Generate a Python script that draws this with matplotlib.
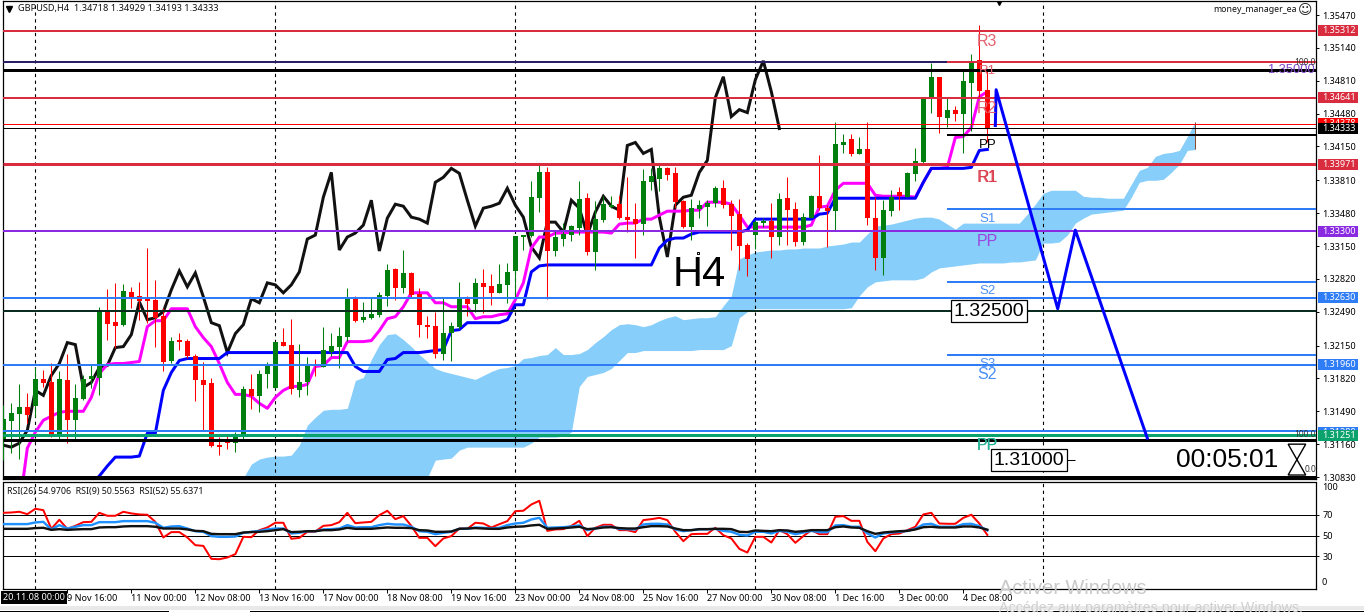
import numpy as np
import matplotlib
matplotlib.use("Agg")
import matplotlib.pyplot as plt
from matplotlib.patches import Rectangle, Polygon
from matplotlib import font_manager as fm
from matplotlib.ft2font import FT2Font

# ---------- data (prices in 1/10000 units) ----------
nan = float("nan")
opens = [13121,13139,13146,13153,13154,13181,13178,13126,13180,13140,
13161,13181,13182,13249,13239,13236,13269,13265,13262,13261,
13245,13200,13220,13220,13205,13180,13177,13115,13119,13117,
13125,13171,13164,13186,13172,13219,13216,13170,13178,13196,
13193,13209,13214,13224,13263,13241,13243,13246,13265,13292,
13273,13288,13267,13236,13235,13207,13228,13234,13264,13257,
13278,13275,13268,13276,13290,13324,13325,13363,13389,13310,
13322,13326,13333,13363,13309,13341,13354,13357,13344,13342,
13337,13379,13382,13393,13388,13360,13334,13352,13354,13358,
13373,13357,13347,13316,13326,13338,13340,13324,13363,13352,
13319,13343,13365,13353,13350,13416,13422,13407,13412,13343,
13303,13350,13369,13364,13387,13399,13463,13485,13444,13452,
13448,13479,13502,13471.8]
highs = [13155,13157,13176,13167,13193,13190,13198,13189,13207,13176,
13185,13197,13254,13272,13278,13277,13274,13279,13313,13281,
13253,13224,13228,13222,13207,13199,13182,13123,13126,13128,
13174,13186,13190,13199,13219,13233,13242,13217,13204,13202,
13234,13228,13234,13273,13265,13259,13263,13269,13297,13293,
13311,13289,13273,13245,13249,13264,13239,13279,13265,13283,
13292,13287,13297,13298,13325,13326,13380,13398,13394,13331,
13338,13336,13380,13368,13360,13365,13365,13365,13384,13358,
13392,13393,13398,13394,13394,13361,13362,13361,13361,13375,
13381,13361,13362,13318,13341,13343,13358,13368,13384,13359,
13348,13366,13406,13356,13440,13428,13428,13424,13440,13364,
13361,13371,13374,13389,13413,13465,13499,13485,13464,13456,
13493,13508,13537,13492.9]
lows = [13100,13107,13101,13137,13143,13173,13123,13120,13117,13119,
13160,13172,13165,13221,13213,13235,13253,13241,13238,13214,
13189,13198,13211,13203,13159,13130,13113,13105,13111,13108,
13120,13151,13148,13172,13172,13215,13166,13163,13165,13184,
13193,13205,13192,13220,13239,13239,13242,13244,13255,13261,
13268,13264,13224,13223,13203,13201,13200,13232,13245,13249,
13248,13256,13268,13258,13264,13311,13324,13349,13262,13305,
13315,13320,13326,13306,13291,13339,13353,13342,13329,13303,
13326,13371,13370,13381,13353,13333,13321,13343,13335,13354,
13353,13311,13291,13285,13312,13334,13303,13316,13316,13315,
13316,13343,13351,13314,13331,13408,13405,13407,13336,13291,
13286,13345,13351,13364,13380,13398,13449,13429,13435,13441,
13408,13431,13464,13419.3]
closes = [13141,13147,13153,13145,13181,13177,13126,13181,13140,13162,
13181,13184,13249,13237,13235,13270,13264,13260,13260,13243,
13199,13220,13219,13205,13180,13175,13114,13113,13117,13125,
13171,13164,13186,13197,13219,13215,13171,13178,13196,13194,
13211,13215,13225,13263,13240,13244,13247,13266,13291,13273,
13288,13266,13236,13234,13207,13228,13235,13262,13257,13278,
13274,13268,13277,13289,13325,13326,13364,13389,13310,13324,
13327,13335,13362,13309,13342,13357,13356,13343,13341,13337,
13380,13385,13393,13386,13359,13334,13353,13356,13358,13373,
13356,13345,13315,13302,13339,13340,13324,13362,13351,13319,
13344,13365,13353,13350,13417,13419,13407,13412,13343,13303,
13351,13364,13365,13388,13400,13465,13485,13445,13452,13448,
13481,13501,13471,13433.3]
chikou = [13115,13113,13117,13130,13170,13165,13185,13197,13218,13216,
13173,13178,13193,13195,13213,13214,13226,13259,13241,13243,
13249,13271,13290,13274,13288,13264,13238,13235,13208,13227,
13236,13262,13258,13278,13276,13268,13276,13289,13322,13326,
13364,13389,13311,13324,13328,13336,13361,13310,13343,13357,
13355,13344,13342,13338,13379,13384,13393,13388,13361,13335,
13353,13355,13358,13373,13356,13344,13314,13303,13339,13339,
13329,13361,13353,13326,13349,13365,13355,13351,13416,13419,
13408,13412,13344,13304,13356,13364,13366,13389,13401,13464,
13485,13445,13452,13449,13482,13501,13470,13433]
tenkan = [nan,nan,13052,13112,13128,13140,13144,13148,13149,13149,
13149,13163,13187,13196,13197,13197,13198,13199,13234,13240,
13240,13252,13252,13252,13234,13223,13214,13197,13178,13166,
13166,13164,13157,13152,13163,13170,13174,13174,13176,13194,
13195,13203,13203,13219,13219,13219,13220,13230,13242,13244,
13254,13268,13268,13268,13258,13258,13254,13254,13254,13242,
13244,13244,13246,13247,13261,13278,13313,13324,13324,13328,
13328,13329,13329,13329,13329,13329,13328,13337,13338,13338,
13342,13342,13346,13350,13350,13350,13351,13351,13359,13359,
13359,13357,13346,13334,13334,13334,13334,13334,13334,13334,
13334,13336,13354,13355,13371,13378,13378,13378,13378,13366,
13365,13365,13365,13365,13364,13379,13393,13393,13394,13424,
13425,13434,13465,13470]
kijun = [nan,nan,nan,nan,nan,nan,nan,nan,nan,nan,
nan,13076,13084,13094,13103,13103,13103,13104,13127,13127,
13170,13188,13200,13202,13202,13202,13202,13202,13208,13208,
13208,13208,13208,13208,13208,13208,13208,13208,13208,13208,
13208,13208,13208,13208,13194,13189,13189,13189,13201,13202,
13208,13208,13208,13209,13210,13211,13230,13231,13238,13238,
13238,13238,13238,13241,13256,13256,13289,13295,13296,13296,
13296,13296,13296,13296,13296,13296,13296,13296,13296,13296,
13296,13296,13313,13321,13323,13323,13327,13329,13329,13329,
13329,13329,13329,13331,13342,13342,13342,13342,13342,13342,
13342,13342,13347,13348,13363,13363,13363,13363,13363,13363,
13363,13363,13363,13363,13363,13379,13393,13393,13393,13393,
13393,13394,13411,13412]
cloud_first_bar = 30
cloud_upper = [13082,13096,13101,13103,13104,13104,13105,13115,13135,13143,
13150,13151,13151,13152,13180,13183,13201,13216,13226,13227,
13221,13214,13206,13199,13192,13189,13187,13185,13183,13181,
13185,13189,13192,13193,13195,13202,13203,13205,13206,13213,
13206,13206,13207,13211,13218,13224,13231,13236,13237,13236,
13234,13236,13240,13243,13245,13241,13242,13243,13243,13244,
13255,13265,13302,13306,13309,13310,13311,13311,13312,13312,
13313,13313,13313,13315,13316,13317,13319,13319,13327,13335,
13336,13337,13339,13341,13343,13344,13344,13342,13337,13332,
13338,13338,13338,13338,13338,13338,13338,13338,13347,13357,
13368,13371,13371,13371,13371,13365,13364,13364,13363,13363,
13363,13377,13391,13394,13405,13408,13409,13411,13425,13440]
cloud_lower = [13075,13075,13075,13075,13075,13075,13075,13075,13075,13075,
13075,13075,13075,13075,13075,13075,13075,13075,13075,13075,
13075,13075,13075,13082,13100,13101,13102,13110,13113,13113,
13113,13113,13113,13113,13113,13113,13117,13123,13123,13123,
13124,13128,13174,13184,13186,13188,13192,13200,13208,13208,
13210,13210,13210,13210,13210,13210,13210,13211,13211,13211,
13211,13215,13243,13249,13252,13252,13252,13252,13252,13252,
13252,13252,13252,13252,13252,13252,13253,13265,13274,13279,
13280,13281,13281,13281,13281,13283,13289,13293,13294,13295,
13296,13297,13298,13298,13298,13298,13299,13299,13300,13301,
13318,13318,13319,13326,13338,13343,13347,13348,13349,13350,
13351,13364,13379,13381,13381,13382,13389,13397,13411,13412]
rsi9 = [72.1,72.4,73.1,70.8,76.0,74.7,56.5,65.3,56.5,59.4,
63.0,63.3,72.1,69.2,69.2,73.1,71.5,70.5,70.2,63.3,
48.1,53.3,53.3,48.1,40.6,39.9,27.3,26.9,28.6,31.8,
48.7,48.4,55.2,57.8,62.4,62.4,46.8,47.7,53.6,53.9,
59.4,60.1,63.0,72.1,62.0,62.7,63.3,69.8,74.1,65.9,
68.9,59.4,47.7,47.7,39.6,47.1,49.4,56.8,56.5,62.4,
61.7,57.8,61.0,64.0,73.7,74.1,80.2,83.8,54.5,55.9,
56.2,59.4,64.3,49.4,57.5,60.4,60.4,55.2,55.2,53.3,
65.0,65.9,67.2,65.0,53.6,44.5,51.3,51.6,51.6,57.5,
50.3,47.1,37.0,33.4,48.7,48.7,43.2,55.2,51.3,42.9,
49.4,55.2,51.3,51.3,68.2,68.9,64.3,64.3,43.8,34.7,
47.1,51.3,51.9,55.2,58.5,70.5,72.1,61.7,61.4,61.4,
67.2,70.2,61.7,50.56]
rsi26 = [61.1,61.1,61.1,61.1,62.7,63.3,55.9,60.1,56.8,58.5,
60.1,60.1,63.0,63.0,63.0,64.0,64.0,64.0,64.0,62.4,
57.5,58.8,59.1,56.8,54.2,53.6,49.4,48.7,48.7,49.0,
52.6,53.6,54.5,55.9,56.8,56.8,52.0,52.6,54.2,54.2,
55.9,56.2,56.8,60.1,57.8,58.1,58.1,60.1,61.4,60.7,
60.7,58.5,54.2,53.6,51.3,52.6,53.6,56.5,56.5,57.8,
57.5,56.8,57.5,60.1,61.7,62.4,65.6,67.2,57.5,57.8,
58.1,58.8,59.8,55.2,56.8,58.5,58.5,56.5,56.2,55.9,
60.7,61.4,61.4,60.7,55.9,54.2,55.2,55.9,55.9,56.5,
54.5,53.6,50.7,50.0,53.6,53.6,52.0,54.5,53.6,51.3,
52.9,54.5,53.3,53.3,59.8,60.1,58.5,58.5,52.0,48.1,
52.0,52.9,53.6,54.5,56.5,60.7,61.4,58.5,58.5,58.5,
61.1,61.4,59.1,54.97]
rsi52 = [56.5,56.5,56.5,56.5,57.2,57.5,55.5,56.2,55.5,55.9,
56.2,56.2,57.8,58.1,58.1,58.8,59.1,59.1,59.1,58.5,
56.8,56.8,56.8,55.9,54.5,54.2,51.6,51.3,51.3,51.3,
52.9,53.3,53.6,54.2,55.2,56.2,53.3,53.6,54.2,54.2,
55.2,55.2,55.9,57.5,56.5,56.5,56.5,57.2,57.8,57.5,
57.5,57.2,55.2,54.9,53.6,53.6,53.9,56.5,56.8,57.2,
56.8,56.5,56.5,57.8,58.5,58.8,59.8,60.4,56.5,56.8,
57.2,57.8,58.5,56.2,56.8,57.8,58.1,57.2,56.8,56.8,
58.1,59.1,59.1,58.8,56.8,55.2,55.2,56.2,56.2,56.5,
56.5,56.2,53.6,53.3,54.9,54.5,54.2,55.2,54.9,53.6,
54.2,55.2,55.2,55.2,58.1,58.8,57.8,57.5,54.2,51.6,
52.9,53.6,54.2,54.5,55.9,58.1,58.5,57.8,57.8,57.8,
58.8,58.8,57.8,55.64]

zigzag_bars = [124.0,124.1,131.8,134.0,143.0]
zigzag_prices = [13436,13472,13252,13331,13122]

price_ticks = [1.35470,1.35140,1.34810,1.34480,1.34150,1.33810,1.33480,1.33150,
               1.32820,1.32490,1.32150,1.31820,1.31490,1.31160,1.30830]
time_tick_bars = [8,16,24,32,40,48,56,64,72,80,88,96,104,112,120]
time_tick_labels = ["9 Nov 16:00","11 Nov 00:00","12 Nov 08:00","13 Nov 16:00","17 Nov 00:00",
                    "18 Nov 08:00","19 Nov 16:00","23 Nov 00:00","24 Nov 08:00","25 Nov 16:00",
                    "27 Nov 00:00","30 Nov 08:00","1 Dec 16:00","3 Dec 00:00","4 Dec 08:00"]
separator_bars = [4,34,64,94,130]

# full width levels
level_prices = [1.35312,1.35000,1.34918,1.34641,1.34378,1.34333,1.33971,1.33300,
                1.32630,1.32497,1.31960,1.31290,1.31251,1.31200,1.30835]
# levels starting at the last session
pivot_prices = [1.35000,1.34265,1.33517,1.32789,1.32055]
boxed_prices = [1.35312,1.34641,1.34378,1.34333,1.33971,1.33300,1.32630,1.31960,1.31280,1.31251]

CRIMSON="#D92C3E"; BLUE="#2F7DF6"; PURPLE="#8A2BE2"; GREEN="#0AA36E"; DARK="#0B2C20"; NAVY="#2A1F66"
level_colors=[CRIMSON,NAVY,"black",CRIMSON,"#FF0000","black",CRIMSON,PURPLE,BLUE,DARK,BLUE,BLUE,GREEN,"black","black"]
level_px=[2,2,3,2,1,1,3,2,2,2,2,2,3,3,3]
pivot_colors=[CRIMSON,"black",BLUE,BLUE,BLUE]
pivot_px=[2,2,2,2,2]
boxed_colors=[CRIMSON,CRIMSON,"#FF0000","black",CRIMSON,PURPLE,BLUE,BLUE,BLUE,GREEN]

W,H=1364,612
plt.rcParams["font.family"]=["Noto Sans","DejaVu Sans"]
fig=plt.figure(figsize=(W/100,H/100),dpi=100,facecolor="white")
LW=0.72  # points per pixel

def fx(p): return p/W
def fy(p): return 1-p/H
def rect(x0,y0,x1,y1): return [fx(x0),fy(y1),fx(x1)-fx(x0),fy(y0)-fy(y1)]

ax=fig.add_axes(rect(3,0.5,1316,479))
rx=fig.add_axes(rect(3,482.5,1316,588.5))
PL,PR=(3-3.33)/8,(1316-3.33)/8
ax.set_xlim(PL,PR); rx.set_xlim(PL,PR)
ax.set_ylim(1.30810,1.35616)
rx.set_ylim(-1.6,101.6)

P=lambda a: np.array(a,float)/1e4
o,h,l,c=P(opens),P(highs),P(lows),P(closes)
bars=np.arange(len(o))

# cloud
cx=np.arange(cloud_first_bar,cloud_first_bar+len(cloud_upper))
cu,cl=P(cloud_upper),P(cloud_lower)
ax.fill_between(cx,cl,cu,color="#87CEFA",lw=0,zorder=1)
ax.vlines(cx[-1],cl[-1],cu[-1],color="#8B4A2B",lw=LW,zorder=2)

# separators
for a in (ax,rx):
    for b in separator_bars:
        a.axvline(b,color="black",lw=LW*1.1,dashes=(3,3.2),zorder=2)

# indicator lines
ax.plot(np.arange(len(chikou)),P(chikou),color="#111111",lw=3*LW,zorder=3,solid_joinstyle="miter")
ax.plot(bars,P(tenkan),color="#FF00FF",lw=3*LW,zorder=3)
ax.plot(bars,P(kijun),color="#0000FF",lw=3*LW,zorder=3.2)

# candles
up=c>=o
col=np.where(up,"#007F0E","#FF0000")
ax.vlines(bars,l,h,colors=col,lw=LW*1.05,zorder=4)
ax.bar(bars,np.maximum(np.abs(c-o),0.00012),bottom=np.minimum(o,c),width=0.63,color=col,lw=0,zorder=4.1)

# levels
for p,cc,w in zip(level_prices,level_colors,level_px):
    ax.axhline(p,color=cc,lw=w*LW,zorder=5,solid_capstyle="butt")
pivot_start=118
for p,cc,w in zip(pivot_prices,pivot_colors,pivot_px):
    ax.hlines(p,pivot_start,PR,color=cc,lw=w*LW,zorder=5.1)

# forecast zigzag
ax.plot(zigzag_bars,P(zigzag_prices),color="#0000FF",lw=3*LW,zorder=6)
ax.plot([124.4],[1.35632],marker="v",ms=9,color="black",zorder=6)

# pivot labels
TT=dict(ha="center",va="center",family="Liberation Sans",zorder=7)
LR="#E4606E"; LB="#4A90F5"; LP="#9A45E0"; LG="#16A98A"
TD=-0.00015
for txt,p,cc,fs in [("R3",1.3522,LR,11.5),("R1",1.3492,LR,9.5),("R2",1.3455,LR,11.5),("PP",1.3418,"black",9.5),
                    ("R1",1.3385,LR,11.5),("S1",1.3344,LB,9.5),("PP",1.3321,LP,11.5),("S2",1.3271,LB,9.5),
                    ("S1",1.3255,LB,9.5),("S3",1.3198,LB,9.5),("S2",1.3187,LB,11.5),("PP",1.3116,LG,11.5)]:
    ax.text(123,p+TD,txt,color=cc,fontsize=fs,**TT)
ax.text(123.07,1.3385+TD,"R1",color="#D8404F",fontsize=11.5,**TT)
ax.text(122.95,1.3116+TD,"PP",color="#2BB39A",fontsize=11.5,**TT)

ax.text(87.0,1.3286,"H4",color="black",fontsize=30,**TT)
ax.plot([86.8],[1.3308],marker="s",ms=2,mfc="white",mec="black",mew=0.7,zorder=7)

box=dict(boxstyle="square,pad=0.14",fc="white",ec="black",lw=0.9)
ax.text(123.2,1.32497,"1.32500",fontsize=14,bbox=box,**{**TT,"zorder":8})
ax.hlines(1.3100,128.2,134,color="black",lw=LW,zorder=5)
ax.text(128.2,1.3100,"1.31000",fontsize=14,bbox=box,**{**TT,"zorder":8})
ax.text(153,1.3100,"00:05:01",fontsize=19,color="black",**TT)

# hourglass: use a family that holds the glyph, otherwise a shape
glyph=None
for ch in ["\u231B","\u29D7","\u29D6","\u23F3"]:
    for fam in ["DejaVu Sans","Noto Sans CJK SC","Noto Sans","Liberation Sans"]:
        path=fm.findfont(fam)
        if FT2Font(path).get_char_index(ord(ch)):
            glyph=(ch,fam); break
    if glyph: break
if glyph:
    ax.text(161.7,1.3100,glyph[0],fontsize=20,color="black",ha="center",va="center",family=glyph[1],zorder=8)
else:
    ax.add_patch(Polygon([(160.6,1.3116),(162.8,1.3116),(160.6,1.3085),(162.8,1.3085)],closed=True,fc="white",ec="black",lw=1,zorder=8))

ya=ax.get_yaxis_transform()
ax.text((1315-3)/1313,1.34918,"1.35000",transform=ya,color="#8048C8",fontsize=9.3,ha="right",va="center",family="Liberation Sans",zorder=7)
for txt,p,xpx in [("100.0",1.3499,1316),("100.0",1.3126,1316),("0.0",1.3091,1316)]:
    ax.text((xpx-3)/1313,p,txt,transform=ya,color="#333333",fontsize=6,ha="right",va="center",zorder=7)

# header texts
fig.text(fx(18),fy(8.5),"GBPUSD,H4  1.34718 1.34929 1.34193 1.34333",fontsize=6.6,va="center",color="#111111")
fig.text(fx(1213),fy(10),"money_manager_ea",fontsize=6.3,va="center",color="#111111")
fig.text(fx(1305),fy(10),"\u263A",fontsize=10,va="center",ha="center",family="DejaVu Sans",color="#222222")
fig.add_artist(plt.Line2D([fx(9)],[fy(9)],marker="v",ms=5,color="black",ls=""))
fig.text(fx(7),fy(491.5),"RSI(26) 54.9706  RSI(9) 50.5563  RSI(52) 55.6371",fontsize=6.4,va="center",color="#111111")

# right axis
ax.yaxis.tick_right()
ax.set_yticks(price_ticks)
ax.set_yticklabels([f"{v:.5f}" for v in price_ticks])
ax.tick_params(axis="y",length=2.2,width=0.7,pad=2.5,labelsize=6.5)
ax.set_xticks([])
for n,(p,cc) in enumerate(zip(boxed_prices,boxed_colors)):
    ax.add_patch(Rectangle(((1318-3)/1313,p-0.00056),40/1313,0.00112,transform=ya,fc=cc,ec="none",clip_on=False,zorder=9+n*0.01))
    ax.text((1322-3)/1313,p,f"{p:.5f}",transform=ya,color="white",fontsize=6.5,va="center",ha="left",zorder=9+n*0.01+0.005)

# RSI
for lev in [70,50,30]:
    rx.axhline(lev,color="black",lw=LW,zorder=1)
rb=np.arange(len(rsi9))
rx.plot(rb,rsi9,color="#FF0000",lw=2*LW,zorder=3)
rx.plot(rb,rsi26,color="#1E90FF",lw=2.4*LW,zorder=3.1)
rx.plot(rb,rsi52,color="#111111",lw=2.4*LW,zorder=3.2)
rx.yaxis.tick_right()
rx.set_yticks([70,50,30])
rx.tick_params(axis="y",length=2.2,width=0.7,pad=2.5,labelsize=6.5)
yr=rx.get_yaxis_transform()
rx.text((1322-3)/1313,97,"100",transform=yr,fontsize=6.5,va="center")
rx.text((1322-3)/1313,4.5,"0",transform=yr,fontsize=6.5,va="center")
rx.set_xticks(time_tick_bars)
rx.set_xticklabels(time_tick_labels,ha="left")
rx.tick_params(axis="x",length=3,width=0.7,pad=1.0,labelsize=6.5)
fig.text(fx(34),fy(597.5),"20.11.08 00:00",fontsize=6.5,color="white",ha="center",va="center",
         bbox=dict(boxstyle="square,pad=0.2",fc="black",ec="none"),zorder=10)

for a in (ax,rx):
    for s in a.spines.values():
        s.set_linewidth(0.9); s.set_color("black")

# window furniture
fig.add_artist(Rectangle((0,fy(610)),1,fy(606)-fy(610),transform=fig.transFigure,fc="#E9E9E9",ec="none",zorder=-1))
for a0,a1 in [(0,168),(250,500),(500,1364)]:
    fig.add_artist(plt.Line2D([fx(a0),fx(a1)],[fy(611)]*2,color="black",lw=LW))
fig.text(fx(999),fy(588),"Activer Windows",fontsize=14.3,color="#C9C9C9",va="center",family="Liberation Sans",zorder=12)
fig.text(fx(999),fy(608),"Accédez aux paramètres pour activer Windows.",fontsize=10.3,color="#CFCFCF",va="center",family="Liberation Sans",zorder=12)

fig.savefig("out.png",dpi=100,facecolor="white")
